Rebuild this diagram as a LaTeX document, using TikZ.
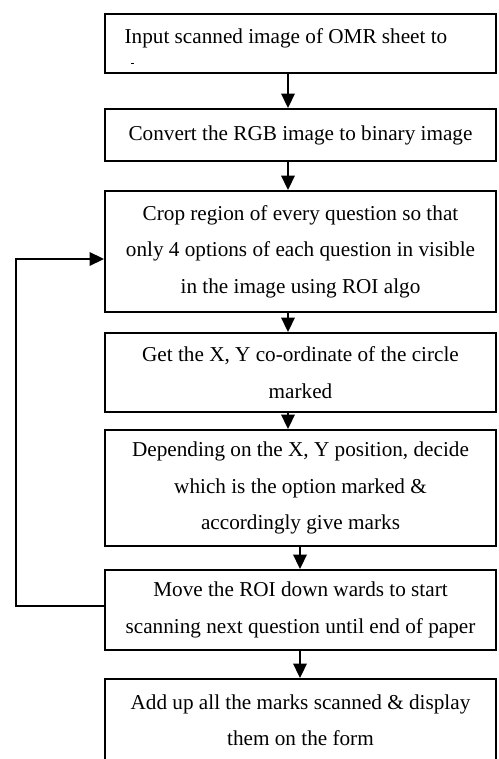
\documentclass[tikz,border=0pt]{standalone}
\usepackage{fontspec}
\setmainfont{Liberation Serif}
\usetikzlibrary{arrows.meta,calc}
\begin{document}
\begin{tikzpicture}[x=1pt,y=-1pt,
  box/.style={draw,line width=1.9pt,rectangle,minimum width=391pt,inner sep=0pt,
    align=center,font=\fontsize{21.2}{36.5}\selectfont},
  arr/.style={line width=1.9pt,-{Triangle[length=14.5pt,width=13.5pt]}}]
\useasboundingbox (0,0) rectangle (498,759);
\clip (0,0) rectangle (498,759);
\coordinate (xa) at (288,0);
\coordinate (xb) at (300,0);
\coordinate (L1) at (16,606);
\coordinate (L2) at (16,259);
\node[box,minimum height=59pt] (b1) at (300.5,43.5) {};
\node[font=\fontsize{21.2}{25}\selectfont,inner sep=0pt,anchor=base] (t1) at (286,43.5) {Input scanned image of OMR sheet to};
\coordinate (d1) at (131,63);
\coordinate (d2) at (134,63);
\draw[line width=0.8pt] (d1) -- (d2);
\node[box,minimum height=52pt] (b2) at (300.5,135) {Convert the RGB image to binary image};
\node[box,minimum height=121pt] (b3) at (300.5,251.5) {Crop region of every question so that\\only 4 options of each question in visible\\in the image using ROI algo};
\node[box,minimum height=79pt] (b4) at (300.5,372.5) {Get the X, Y co-ordinate of the circle\\marked};
\node[box,minimum height=116pt] (b5) at (300.5,488) {Depending on the X, Y position, decide\\which is the option marked \&\\accordingly give marks};
\node[box,minimum height=80pt] (b6) at (300.5,610) {Move the ROI down wards to start\\scanning next question until end of paper};
\node[box,minimum height=82pt] (b7) at (300.5,720) {Add up all the marks scanned \& display\\them on the form};
\draw[arr] (b1.south -| xa) -- (b2.north -| xa);
\draw[arr] (b2.south -| xa) -- (b3.north -| xa);
\draw[arr] (b3.south -| xa) -- (b4.north -| xa);
\draw[arr] (b4.south -| xa) -- (b5.north -| xa);
\draw[arr] (b5.south -| xb) -- (b6.north -| xb);
\draw[arr] (b6.south -| xb) -- (b7.north -| xb);
\draw[arr] (b6.west |- L1) -- (L1) -- (L2) -- (b3.west |- L2);
\end{tikzpicture}
\end{document}
